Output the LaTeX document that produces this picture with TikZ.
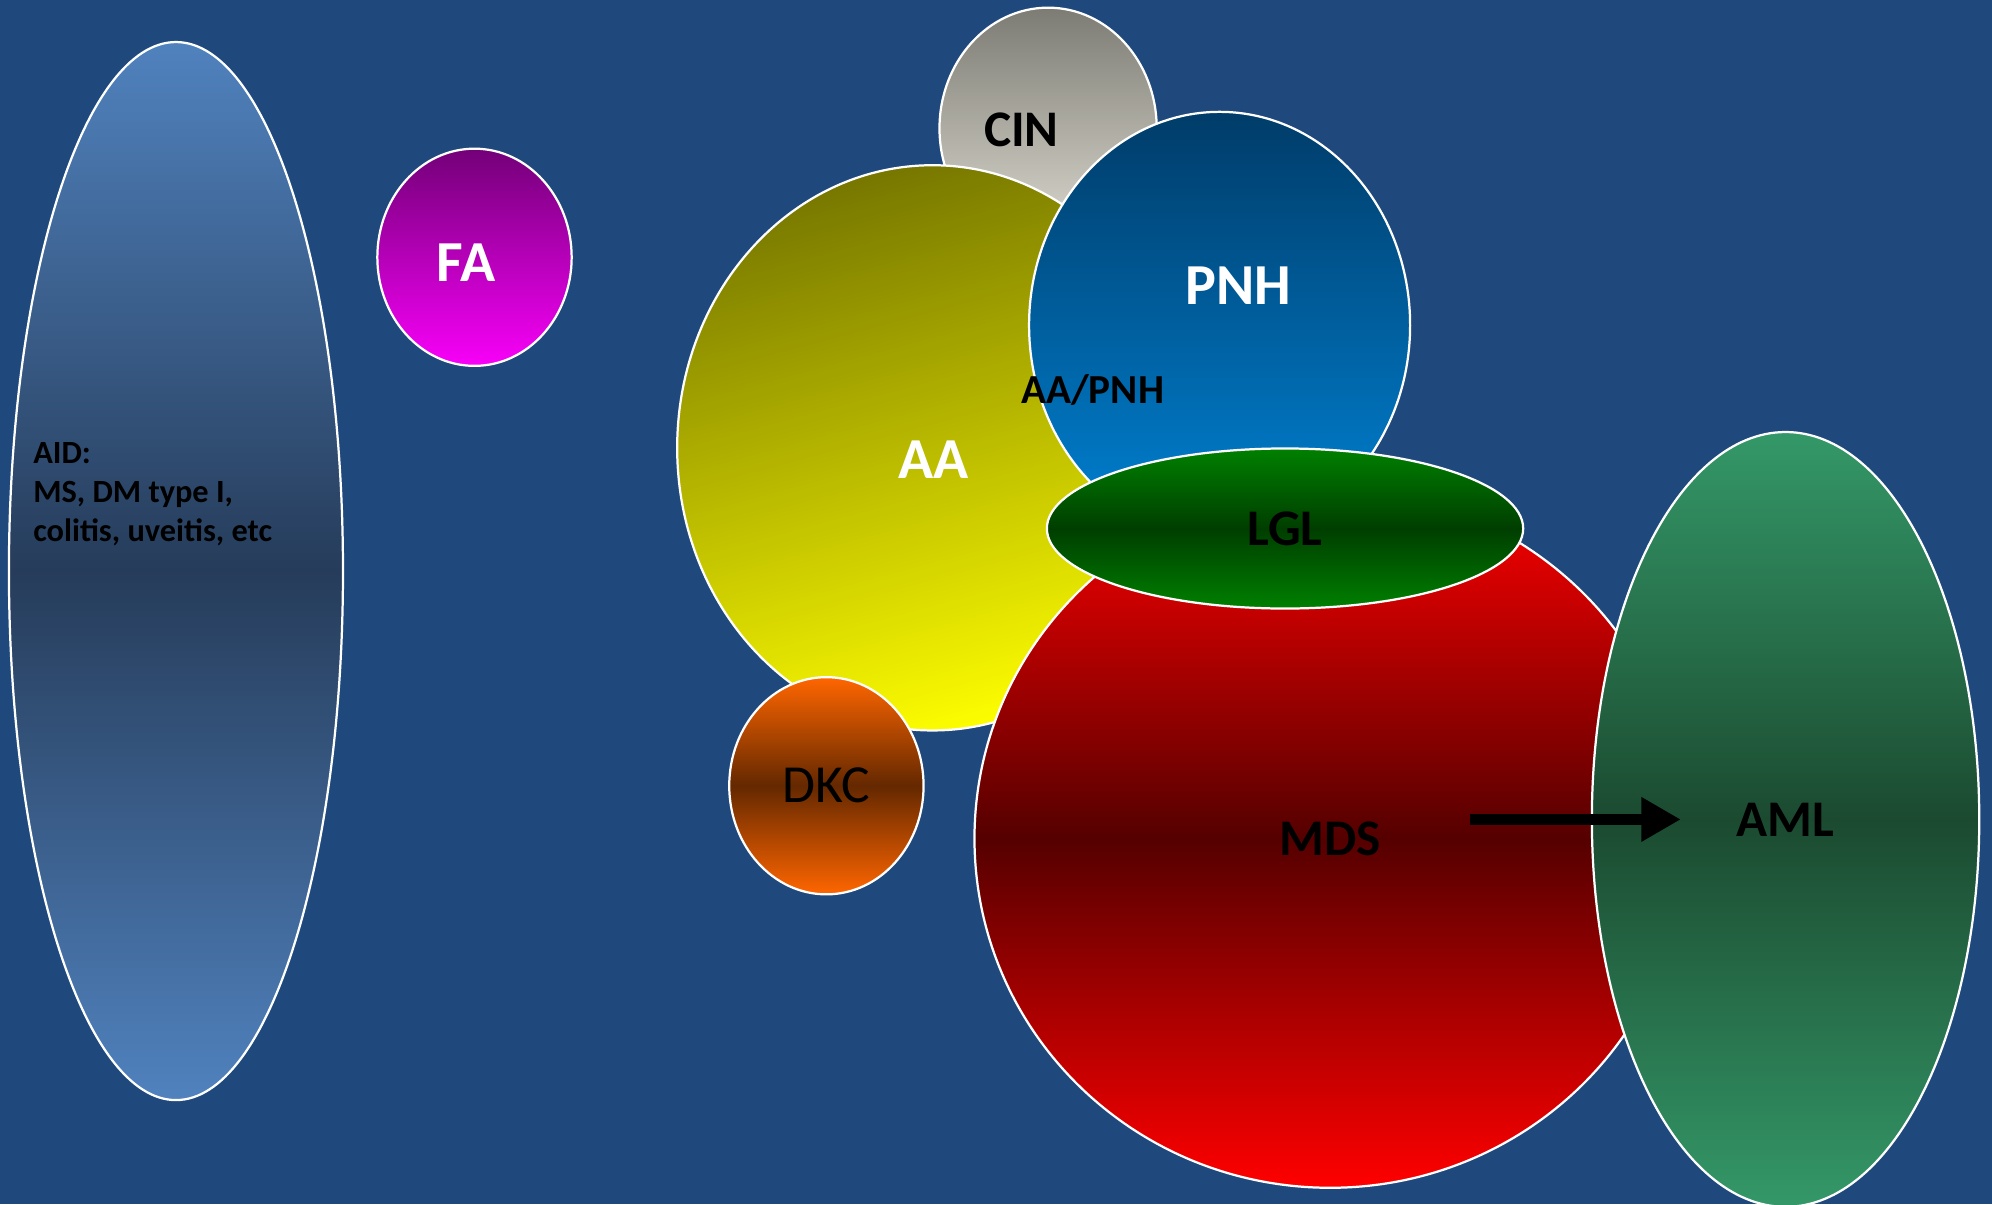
\documentclass[tikz,border=0pt]{standalone}
\usepackage{fontspec}
\setmainfont{Carlito}
\usetikzlibrary{arrows.meta, shapes.geometric}
\definecolor{slide}{RGB}{31,73,125}
\definecolor{aidlight}{RGB}{80,130,190}
\definecolor{aiddark}{RGB}{38,60,90}
\definecolor{fadark}{RGB}{115,0,120}
\definecolor{falight}{RGB}{248,0,248}
\definecolor{cindark}{RGB}{125,124,116}
\definecolor{cinlight}{RGB}{222,220,210}
\definecolor{aadark}{RGB}{120,120,0}
\definecolor{aalight}{RGB}{252,252,0}
\definecolor{pnhdark}{RGB}{0,60,105}
\definecolor{pnhlight}{RGB}{0,130,212}
\definecolor{lglouter}{RGB}{0,128,0}
\definecolor{lglinner}{RGB}{0,62,0}
\definecolor{mdsouter}{RGB}{255,0,0}
\definecolor{mdsinner}{RGB}{85,0,0}
\definecolor{dkcouter}{RGB}{255,102,0}
\definecolor{dkcinner}{RGB}{100,40,0}
\definecolor{amlouter}{RGB}{52,152,104}
\definecolor{amlinner}{RGB}{27,74,48}
\tikzset{
	blob/.style={ellipse, draw=white, line width=1pt, inner sep=0pt},
	white label/.style={font=\bfseries\fontsize{26}{30}\selectfont, text=white},
	dark label/.style={font=\bfseries\fontsize{23}{27}\selectfont, text=black},
	small label/.style={font=\bfseries\fontsize{18.5}{22}\selectfont, text=black},
	list label/.style={font=\bfseries\fontsize{14.5}{17.6}\selectfont, text=black, align=left, anchor=west},
	progress/.style={-{Triangle[length=0.62cm, width=0.66cm]}, line width=0.16cm}
}

\begin{document}
\begin{tikzpicture}[x=0.02cm, y=-0.02cm]
		
		% slide background
		\fill[slide] (0,0) rectangle (1568,948);
		\useasboundingbox (0,0) rectangle (1568,948);
		
		% Ellipses, back to front
		\node[blob, minimum width=5.26cm, minimum height=16.66cm,
			top color=aidlight, bottom color=aidlight, middle color=aiddark] (AID) at (138.5,449.5) {};
		\node[blob, minimum width=3.06cm, minimum height=3.42cm,
			top color=fadark, bottom color=falight] (FA) at (373.5,202.5) {};
		\node[blob, minimum width=3.42cm, minimum height=3.8cm,
			top color=cindark, bottom color=cinlight] (CIN) at (825,101) {};
		\node[blob, minimum width=8.04cm, minimum height=8.9cm,
			top color=aadark, bottom color=aalight, shading angle=15] (AA) at (734,352.5) {};
		\node[blob, minimum width=6cm, minimum height=6.72cm,
			top color=pnhdark, bottom color=pnhlight] (PNH) at (960,256) {};
		\node[blob, minimum width=11.2cm, minimum height=11cm,
			top color=mdsouter, bottom color=mdsouter, middle color=mdsinner, dark label] (MDS) at (1047,660) {MDS};
		\node[blob, minimum width=7.5cm, minimum height=2.52cm,
			top color=lglouter, bottom color=lglouter, middle color=lglinner, dark label] (LGL) at (1011.5,416) {LGL};
		\node[blob, minimum width=3.06cm, minimum height=3.42cm,
			top color=dkcouter, bottom color=dkcouter, middle color=dkcinner,
			font=\fontsize{24}{28}\selectfont] (DKC) at (650.5,618.5) {DKC};
		\node[blob, minimum width=6.1cm, minimum height=12.2cm,
			top color=amlouter, bottom color=amlouter, middle color=amlinner, dark label] (AML) at (1405.5,645) {AML};
		
		% Labels set off the centres
		\node[list label] (AIDtext) at (20,389) {AID:\\MS, DM type I,\\colitis, uveitis, etc};
		\node[white label] (FAtext) at (367,207) {FA};
		\node[dark label] (CINtext) at (804,102) {CIN};
		\node[white label] (AAtext) at (735,362) {AA};
		\node[white label] (PNHtext) at (975,225) {PNH};
		\node[small label] (overlap) at (860,307) {AA/PNH};
		
		% MDS -> AML
		\coordinate (mdsout) at (1157,645);
		\coordinate (amlin) at (1323,645);
		\draw[progress] (mdsout) -- (amlin);
		
	\end{tikzpicture}
\end{document}
